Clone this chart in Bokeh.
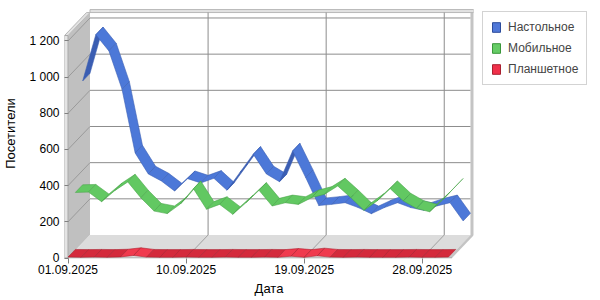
import numpy as np
from bokeh.plotting import figure
from bokeh.models import FixedTicker, Legend, LegendItem
from bokeh.embed import file_html
from bokeh.resources import INLINE

# ---------------- data ----------------
dates = ["01.09.2025", "02.09.2025", "03.09.2025", "04.09.2025", "05.09.2025",
         "06.09.2025", "07.09.2025", "08.09.2025", "09.09.2025", "10.09.2025",
         "11.09.2025", "12.09.2025", "13.09.2025", "14.09.2025", "15.09.2025",
         "16.09.2025", "17.09.2025", "18.09.2025", "19.09.2025", "20.09.2025",
         "21.09.2025", "22.09.2025", "23.09.2025", "24.09.2025", "25.09.2025",
         "26.09.2025", "27.09.2025", "28.09.2025", "29.09.2025", "30.09.2025"]

desktop = [894, 1150, 1060, 848, 496, 380, 341, 286, 354, 330,
           356, 290, 390, 489, 380, 337, 507, 360, 205, 212,
           221, 194, 160, 194, 221, 194, 179, 203, 221, 120]
mobile = [320, 322, 269, 330, 378, 290, 217, 203, 256, 341,
          227, 254, 199, 263, 332, 245, 263, 254, 291, 310,
          356, 291, 221, 273, 341, 273, 232, 213, 280, 355]
tablet = [5, 4, 5, 4, 6, 14, 5, 4, 4, 5,
          4, 4, 5, 4, 4, 5, 4, 10, 4, 12,
          5, 4, 5, 4, 4, 4, 5, 4, 4, 5]

series_names = ["Настольное", "Мобильное", "Планшетное"]
y_ticks = [0, 200, 400, 600, 800, 1000, 1200]
y_tick_labels = ["0", "200", "400", "600", "800", "1 000", "1 200"]
x_tick_labels = ["01.09.2025", "10.09.2025", "19.09.2025", "28.09.2025"]
axis_max = 1230

# ---------------- geometry (pixels -> data) ----------------
PX_DAY = 13.12          # pixels per day
PX_UNIT = 0.18085       # pixels per visitor
FRAME_L, FRAME_T, FRAME_R, FRAME_B = 61, 8, 470, 258
DAY0_PX = 64.5
ZERO_PX = 257.5
DEPTH_X_PX, DEPTH_Y_PX = 22.0, 23.0
THICK_PX = 3.5

x0 = (FRAME_L - DAY0_PX) / PX_DAY
x1 = x0 + (FRAME_R - FRAME_L) / PX_DAY
y0 = -(FRAME_B - ZERO_PX) / PX_UNIT
y1 = y0 + (FRAME_B - FRAME_T) / PX_UNIT

DX = DEPTH_X_PX / PX_DAY
DY = DEPTH_Y_PX / PX_UNIT
TX = THICK_PX / PX_DAY
TY = 3.0 / PX_UNIT

n = len(dates)
days = np.arange(n)
last = days[-1]

p = figure(frame_width=FRAME_R - FRAME_L, frame_height=FRAME_B - FRAME_T,
           x_range=(x0, x1), y_range=(y0, y1),
           min_border_left=FRAME_L, min_border_right=600 - FRAME_R,
           min_border_top=FRAME_T, min_border_bottom=300 - FRAME_B,
           output_backend="svg", toolbar_location=None,
           outline_line_color=None, background_fill_color="white",
           border_fill_color="white")
p.xgrid.visible = False
p.ygrid.visible = False

# ---------------- walls and floor ----------------
wall_gray = "#c0c0c0"
# left wall
p.patch([0, DX, DX, 0], [0, DY, axis_max + DY, axis_max],
        fill_color=wall_gray, line_color=None)
# floor
p.patch([0, last, last + DX, DX], [0, 0, DY, DY],
        fill_color="#dcdcdc", line_color=None)
# floor right side
p.patch([last, last + DX, last + DX + TX, last + TX], [0, DY, DY, 0],
        fill_color="#c4c4c4", line_color=None)
# back wall right side
p.patch([last + DX, last + DX + TX, last + DX + TX, last + DX],
        [DY, DY, axis_max + DY + TY, axis_max + DY + TY],
        fill_color="#c4c4c4", line_color=None)
# back wall top
p.patch([DX, last + DX + TX, last + DX + TX, DX],
        [axis_max + DY, axis_max + DY, axis_max + DY + TY, axis_max + DY + TY],
        fill_color="#e2e2e2", line_color="#b8b8b8", line_width=1)
# left wall top
p.patch([-TX, 0, DX, DX - TX], [axis_max, axis_max, axis_max + DY, axis_max + DY],
        fill_color="#e2e2e2", line_color="#b8b8b8", line_width=1)
# left wall front edge
p.patch([-TX, 0, 0, -TX], [y0, y0, axis_max, axis_max],
        fill_color="#e4e4e4", line_color="#a8a8a8", line_width=1)

# grid lines on back wall and left wall
grid_color = "#8c8c8c"
gv = [v for v in y_ticks if v > 0]
p.segment(x0=[DX] * len(gv), y0=[v + DY for v in gv],
          x1=[last + DX] * len(gv), y1=[v + DY for v in gv],
          line_color=grid_color, line_width=1)
p.segment(x0=[0] * len(gv), y0=gv, x1=[DX] * len(gv), y1=[v + DY for v in gv],
          line_color="#9a9a9a", line_width=1)
x_tick_days = [dates.index(t) for t in x_tick_labels]
vd = [d for d in x_tick_days if d > 0]
p.segment(x0=[d + DX for d in vd], y0=[DY] * len(vd),
          x1=[d + DX for d in vd], y1=[axis_max + DY] * len(vd),
          line_color=grid_color, line_width=1)
p.segment(x0=vd, y0=[0] * len(vd), x1=[d + DX for d in vd], y1=[DY] * len(vd),
          line_color="#a0a0a0", line_width=1)
# front floor edge
p.segment(x0=[-TX], y0=[0], x1=[last + TX], y1=[0], line_color="#a0a0a0", line_width=1)

# ---------------- ribbons ----------------
styles = [  # (top, bottom/dark, bright)
    ("#4c78d8", "#3a5db2", "#4c78d8"),
    ("#62c862", "#48a448", "#62c862"),
    ("#d42a3c", "#a81e2c", "#f03a4e"),
]
values = [desktop, mobile, tablet]
depth_row = [2, 1, 0]   # row in depth: 0 = front
SOX, SOY = DEPTH_X_PX / 3, -DEPTH_Y_PX / 3

for k in range(3):
    vals = values[k]
    row = depth_row[k]
    fx, fy = row * DX / 3, row * DY / 3
    ox, oy = DX / 3, DY / 3
    xs, ys, fills, lines = [], [], [], []
    top_c, dark_c, bright_c = styles[k]
    for j in range(n - 1):
        xa, xb = days[j] + fx, days[j + 1] + fx
        ya, yb = vals[j] + fy, vals[j + 1] + fy
        xs.append([xa, xb, xb + ox, xa + ox])
        ys.append([ya, yb, yb + oy, ya + oy])
        sdx = PX_DAY
        sdy = -(vals[j + 1] - vals[j]) * PX_UNIT
        cross = sdx * SOY - sdy * SOX
        if cross > 0:
            fills.append(dark_c)
        elif abs(vals[j + 1] - vals[j]) >= 4 and k == 2:
            fills.append(bright_c)
        else:
            fills.append(top_c)
        lines.append(dark_c)
    p.patches(xs=xs, ys=ys, fill_color=fills, line_color=lines,
              line_width=0.7, line_alpha=0.8)

# legend swatches: zero-area patches at each series' first point
legend_fill = ["#5078d8", "#66cc66", "#f0304a"]
legend_line = ["#2c4c9c", "#3a963a", "#a82030"]
renderers = []
for k in range(3):
    vals = values[k]
    fx, fy = depth_row[k] * DX / 3, depth_row[k] * DY / 3
    r = p.patches(xs=[[days[0] + fx] * 3], ys=[[vals[0] + fy] * 3],
                  fill_color=legend_fill[k], line_color=legend_line[k],
                  line_width=1)
    renderers.append(r)

# ---------------- axes ----------------
font = "Liberation Sans"
p.yaxis.ticker = FixedTicker(ticks=y_ticks)
p.yaxis.major_label_overrides = dict(zip(y_ticks, y_tick_labels))
p.xaxis.ticker = FixedTicker(ticks=x_tick_days)
p.xaxis.major_label_overrides = dict(zip(x_tick_days, x_tick_labels))
for ax in (p.xaxis, p.yaxis):
    ax.axis_line_color = None
    ax.minor_tick_line_color = None
    ax.major_tick_line_color = "#808080"
    ax.major_label_text_font = font
    ax.major_label_text_font_size = "12px"
    ax.major_label_text_color = "black"
    ax.axis_label_text_font = font
    ax.axis_label_text_font_size = "13px"
    ax.axis_label_text_font_style = "normal"
    ax.axis_label_text_color = "black"
p.yaxis.major_tick_in = 4
p.yaxis.major_tick_out = 0
p.yaxis.major_label_standoff = 5
p.yaxis.axis_label = "Посетители"
p.yaxis.axis_label_standoff = 8
p.xaxis.major_tick_in = 0
p.xaxis.major_tick_out = 5
p.xaxis.major_label_standoff = 1
p.xaxis.axis_label = "Дата"
p.xaxis.axis_label_standoff = 4

legend = Legend(items=[LegendItem(label=series_names[k], renderers=[renderers[k]])
                       for k in range(3)],
                location=(9, FRAME_B - 85),
                padding=8, spacing=7, margin=0,
                glyph_width=10, glyph_height=12, label_height=12,
                label_standoff=7, label_text_font=font, label_text_font_size="12px",
                border_line_color="#a8a8a8", border_line_width=1,
                background_fill_color="white", background_fill_alpha=1.0)
p.add_layout(legend, "right")

open("out.html", "w").write(file_html(p, INLINE))
